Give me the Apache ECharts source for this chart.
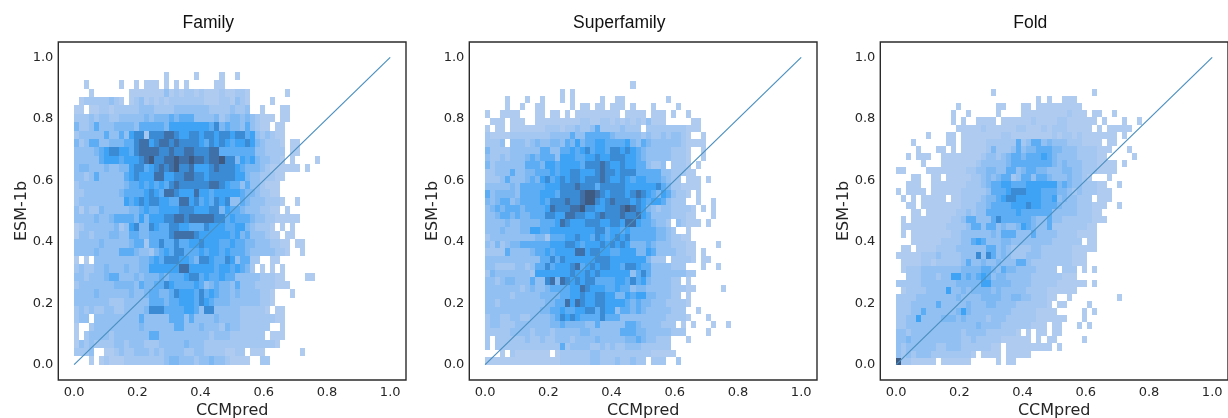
<!DOCTYPE html>
<html>
<head>
<meta charset="utf-8">
<style>html,body{margin:0;padding:0;background:#fff}#chart{width:1228px;height:418px}</style>
<script src="https://cdn.jsdelivr.net/npm/echarts@6/dist/echarts.min.js"></script>
</head>
<body>
<div id="chart"></div>
<script>
// histogram shade per cell: 0 empty, 1 lightest ... 9 darkest
// one string per row, top row first, column 0 at x = 0 (spaces only for reading)
var familyRows = [
	"00000 00000 00000 00010 00001 00001 00100",
	"00100 00001 00101 11010 10100 00011",
	"00010 00000 01111 11131 21221 21112 11221 00000 00100",
	"01222 22321 01231 21212 22222 21112 21321 00001",
	"11011 22122 22233 32222 33333 33222 23223 00100 01100",
	"22232 33223 33334 34445 45553 33342 34434 32111 01100",
	"42235 33344 44355 55546 66666 66574 54435 32110 11000",
	"23333 35335 36772 77788 76677 67767 76775 63232 11000",
	"42355 33444 55788 67887 87777 65767 65667 64322 21011",
	"33334 56776 65788 88778 77887 77885 55555 53322 22011",
	"33333 56665 66678 97788 98898 87889 77465 64332 21010 0001",
	"34433 34334 46775 67878 97786 66787 77654 44321 11111 01000",
	"33235 33333 56766 68866 77887 76777 77664 33222 11",
	"23333 33333 45565 65657 87777 77887 65535 33211 1",
	"22333 33334 55556 76588 76668 66566 66654 43221 1",
	"23333 33333 65676 77665 58867 56576 73354 33322 21001",
	"31322 43333 34456 55666 67776 66774 65543 33221 10100",
	"33334 33455 55464 66677 88788 88877 56555 43322 11111",
	"12333 33342 36744 76557 76655 57666 55664 32221 01010",
	"13323 33443 35544 55557 88887 66666 65645 33321 10110",
	"33333 43333 34552 55755 75566 76665 56554 43332 21101 1",
	"33334 33335 55433 24565 77555 65665 65554 33333 22100 1",
	"10103 33333 33344 56577 76654 77655 76355 22001 1",
	"23223 34333 43344 66666 68866 66656 65654 20101 01",
	"33233 34553 33434 44545 55677 56556 55333 33222 11000 01100",
	"23333 33344 44354 45576 55556 53454 43533 32222 11100",
	"33334 33333 34334 55445 76665 75654 43433 33221 00010",
	"33333 33222 33333 55545 56665 76544 43333 33221",
	"23232 23322 33334 77755 55665 37733 33322 22210 11",
	"23303 33333 33353 33335 55353 33343 33322 22222 11",
	"10023 33333 33343 33333 55333 43332 43322 22220 01",
	"10233 33233 33333 55333 33333 33233 32222 22201 11",
	"13232 22233 23332 22333 33433 32222 22222 22222 1",
	"22230 01123 22333 23233 33223 32222 11220 11100 00000 1",
	"00010 12111 22222 22234 43332 33433 21111 00220"
];
var superfamilyRows = [
	"00000 00000 00000 00000 00000 00001",
	"00000 00000 00000 10100",
	"00001 00010 01000 10100 00010 01100 00000 01000",
	"00001 00100 11000 00101 10110 11101 00010 00010",
	"10011 11000 11011 01011 11111 11011 11011 10100 10000",
	"01110 11100 11111 11112 21122 12121 21311 10000 01100",
	"10110 11111 11222 12232 23522 22322 20222 22222 11100",
	"21111 22222 22233 33533 55555 43333 32322 32332 10010",
	"22230 33323 43344 35464 55665 55564 35433 33332 11110",
	"42222 33333 35533 55656 75665 77676 54333 33222 10010",
	"32232 33345 45553 66655 66766 77766 54333 33222 10010",
	"42333 33355 54665 66665 77787 66766 55322 30222 10100",
	"22333 53344 55565 66776 66787 76777 55555 33222 11000",
	"22235 33345 46756 76776 77787 66765 66555 43220 11101",
	"33333 43555 55666 77787 77577 77766 66667 54221 11100",
	"53444 43555 56665 77778 99876 77767 87654 65322 10100",
	"43455 34555 56577 78778 99767 87776 76566 53222 00100 1",
	"34545 55455 55687 77889 77667 77898 76432 33222 21010 1",
	"33455 45445 55776 68877 66787 77877 86533 33222 11000 1",
	"33334 33444 45556 87666 77766 77688 65543 32032 11101",
	"33343 33446 65566 66666 66775 66565 55554 43200 1",
	"23333 33333 44255 56676 65765 67675 55554 43221 1",
	"32423 44555 55566 67765 66676 76764 44543 33222 11000 01",
	"22225 33334 55656 66688 67766 55666 44653 33322 11010",
	"33333 33333 35575 76666 66777 66666 66422 20222 21011",
	"33222 23323 55756 66785 67677 66577 65533 33222 00010 01",
	"24333 33332 66666 66766 76766 66663 57533 33333 22",
	"33234 43335 33784 87676 77555 56657 56433 33220 1",
	"33333 33234 33455 55668 76665 56553 44333 33222 11000 001",
	"33333 23333 34444 55667 66776 64465 66443 33220 1",
	"33233 33333 33445 58687 66776 66654 54433 32222 1",
	"33333 33333 34455 65566 77576 63554 54333 33222 00100",
	"23322 33223 33345 76765 55575 55333 33333 32222 10001",
	"23322 23333 33344 54444 33533 33355 43333 22201 01000 10010",
	"22222 33332 33323 33334 43333 33555 44333 33222 00001",
	"20222 22232 23223 33233 33433 33344 54332 22000 1",
	"20222 22222 22222 52333 32232 32233 32222 22",
	"00010 21111 11101 22222 23322 22222 22211 111",
	"11111 11111 11111 22222 23322 23223 22022 20020"
];
var foldRows = [
	"00000 00000 00000 00001 00000 00000 00000 00001",
	"00000 00000 00000 00000 00000 00010 10011 10000",
	"00000 00000 00100 00000 11000 11011 11111 11000",
	"00000 00000 01001 00000 10000 11111 11112 11101 10010",
	"00000 00000 01010 01111 01111 11211 11221 11111 01000 10010",
	"00000 00000 00111 11211 11112 21112 12221 11110 10111 11",
	"00000 01000 11011 11111 12211 11111 12122 12111 11110 1",
	"00010 00000 11011 11122 22225 23553 43332 22111 10110",
	"00001 00011 01011 11124 22235 34455 54433 32222 11100 01",
	"00101 11001 11111 11233 23455 45556 54333 32222 11000 001",
	"00000 10001 11111 12333 33455 55555 54343 33222 11110 1",
	"11000 01111 11112 23344 33553 45544 33344 33222 11110",
	"00011 00110 11111 22343 45523 55355 43334 33210 00100",
	"00111 00111 11112 22345 56655 56666 66454 33222 11001",
	"10111 10111 11122 22235 55677 76665 55443 23222 111",
	"01010 11111 01122 22344 56776 66665 56343 32220 11100",
	"00110 11111 11122 23345 55566 67665 55433 32221 11001",
	"00011 01111 11223 23355 55556 55555 53333 32221 1",
	"01011 11111 12235 53335 75555 55433 53322 22221 11",
	"01111 11111 22223 55355 34334 65433 52222 22211",
	"01011 11111 12233 33334 35553 33533 33222 21111",
	"00011 11112 22233 56533 34433 33333 32222 22011",
	"01101 11122 22333 33355 34322 22332 22222 11111",
	"11111 22232 22233 37375 34322 23332 22222 111",
	"01111 22122 22235 33433 43335 53222 22222 111",
	"01222 33333 33344 44554 35443 33322 22022 20101",
	"00222 33323 36645 45653 44333 33222 22211 1",
	"22222 33333 33444 44664 44433 33222 22111 11101",
	"01222 23333 63343 44443 43333 32222 11111 1",
	"22223 33333 33433 33444 43344 33222 11001 00000 00001",
	"22233 33353 33334 33344 33332 22222 10110 00010",
	"22233 53333 33464 33333 33322 22211 11000 00101",
	"22336 33334 44343 33323 33222 22211 11110 00100",
	"22333 33333 33333 34333 32222 22111 01100 01010",
	"33233 33333 33323 33322 22221 01011 01100",
	"33433 33333 33322 32222 21111 11010 11000 00100",
	"32333 33322 33322 22221 10111 11111 10100",
	"32323 33222 22222 10111 10111 11",
	"92211 11101 11111 00000 10110"
];
var titles = ['Family', 'Superfamily', 'Fold'];
var tickValues = [0, 0.2, 0.4, 0.6, 0.8, 1];
var diagonal = [[0, 0], [1, 1]];
// bin size in data units [x, y]
var familyBin = [0.01586, 0.02721];
var superfamilyBin = [0.01586, 0.02364];
var foldBin = [0.01586, 0.02298];

var shades = ['', '#b0cbf0', '#a3c7f1', '#92c0f2', '#7db8f3', '#5dadf5', '#3fa3f5', '#3a8bd4', '#3f70a8', '#3f5a80'];
var panels = [
	{ rows: familyRows, bin: familyBin, left: 58.3 },
	{ rows: superfamilyRows, bin: superfamilyBin, left: 469.3 },
	{ rows: foldRows, bin: foldBin, left: 880.3 }
];
var boxTop = 42, boxW = 347.7, boxH = 338;

// rows of digits -> [xLo, xHi, yLo, yHi, shade]
function toCells(rows, bin) {
	var out = [];
	rows.forEach(function(row, r) {
		var s = row.replace(/ /g, '');
		var k = rows.length - 1 - r;
		for (var c = 0; c < s.length; c++) {
			var v = +s.charAt(c);
			if (v > 0) out.push([c * bin[0], (c + 1) * bin[0], k * bin[1], (k + 1) * bin[1], v]);
		}
	});
	return out;
}

function drawCell(params, api) {
	var a = api.coord([api.value(0), api.value(3)]);
	var b = api.coord([api.value(1), api.value(2)]);
	var x = Math.round(a[0]), y = Math.round(a[1]);
	return {
		type: 'rect',
		shape: { x: x, y: y, width: Math.round(b[0]) - x, height: Math.round(b[1]) - y },
		style: { fill: shades[api.value(4)] }
	};
}

var font = { fontFamily: 'DejaVu Sans', color: '#262626' };
var option = { animation: false, title: [], grid: [], xAxis: [], yAxis: [], series: [] };

panels.forEach(function(p, i) {
	option.title.push({
		text: titles[i],
		left: p.left + 145,
		top: 9,
		textAlign: 'center',
		textStyle: { fontFamily: 'Liberation Sans', fontSize: 17.5, fontWeight: 'normal', color: '#111' }
	});
	option.grid.push({
		show: true, left: p.left, top: boxTop, width: boxW, height: boxH,
		outerBoundsMode: 'none',
		borderColor: '#2b2b2b', borderWidth: 1.4, backgroundColor: '#fff'
	});
	option.xAxis.push({
		type: 'value', gridIndex: i, min: -0.05, max: 1.05,
		name: 'CCMpred', nameLocation: 'middle', nameGap: 23, nameMoveOverlap: false,
		nameTextStyle: { fontFamily: font.fontFamily, color: font.color, fontSize: 16 },
		axisLine: { show: false }, splitLine: { show: false },
		axisTick: { show: false, customValues: tickValues },
		axisLabel: {
			customValues: tickValues, margin: 6, fontSize: 13, fontFamily: font.fontFamily, color: font.color,
			formatter: function(v) { return v.toFixed(1); }
		}
	});
	option.yAxis.push({
		type: 'value', gridIndex: i, min: -0.05, max: 1.05,
		name: 'ESM-1b', nameLocation: 'middle', nameGap: 28, nameMoveOverlap: false,
		nameTextStyle: { fontFamily: font.fontFamily, color: font.color, fontSize: 16 },
		axisLine: { show: false }, splitLine: { show: false },
		axisTick: { show: false, customValues: tickValues },
		axisLabel: {
			customValues: tickValues, margin: 5, fontSize: 13, fontFamily: font.fontFamily, color: font.color,
			formatter: function(v) { return v.toFixed(1); }
		}
	});
	option.series.push({
		type: 'custom', xAxisIndex: i, yAxisIndex: i,
		data: toCells(p.rows, p.bin),
		encode: { x: [0, 1], y: [2, 3] },
		renderItem: drawCell,
		silent: true
	});
	option.series.push({
		type: 'line', xAxisIndex: i, yAxisIndex: i, z: 5,
		data: diagonal, symbol: 'none', silent: true,
		lineStyle: { color: '#4a8fbf', width: 1.2 }
	});
});

var myChart = echarts.init(document.getElementById('chart'));
myChart.setOption(option);
</script>
</body>
</html>
